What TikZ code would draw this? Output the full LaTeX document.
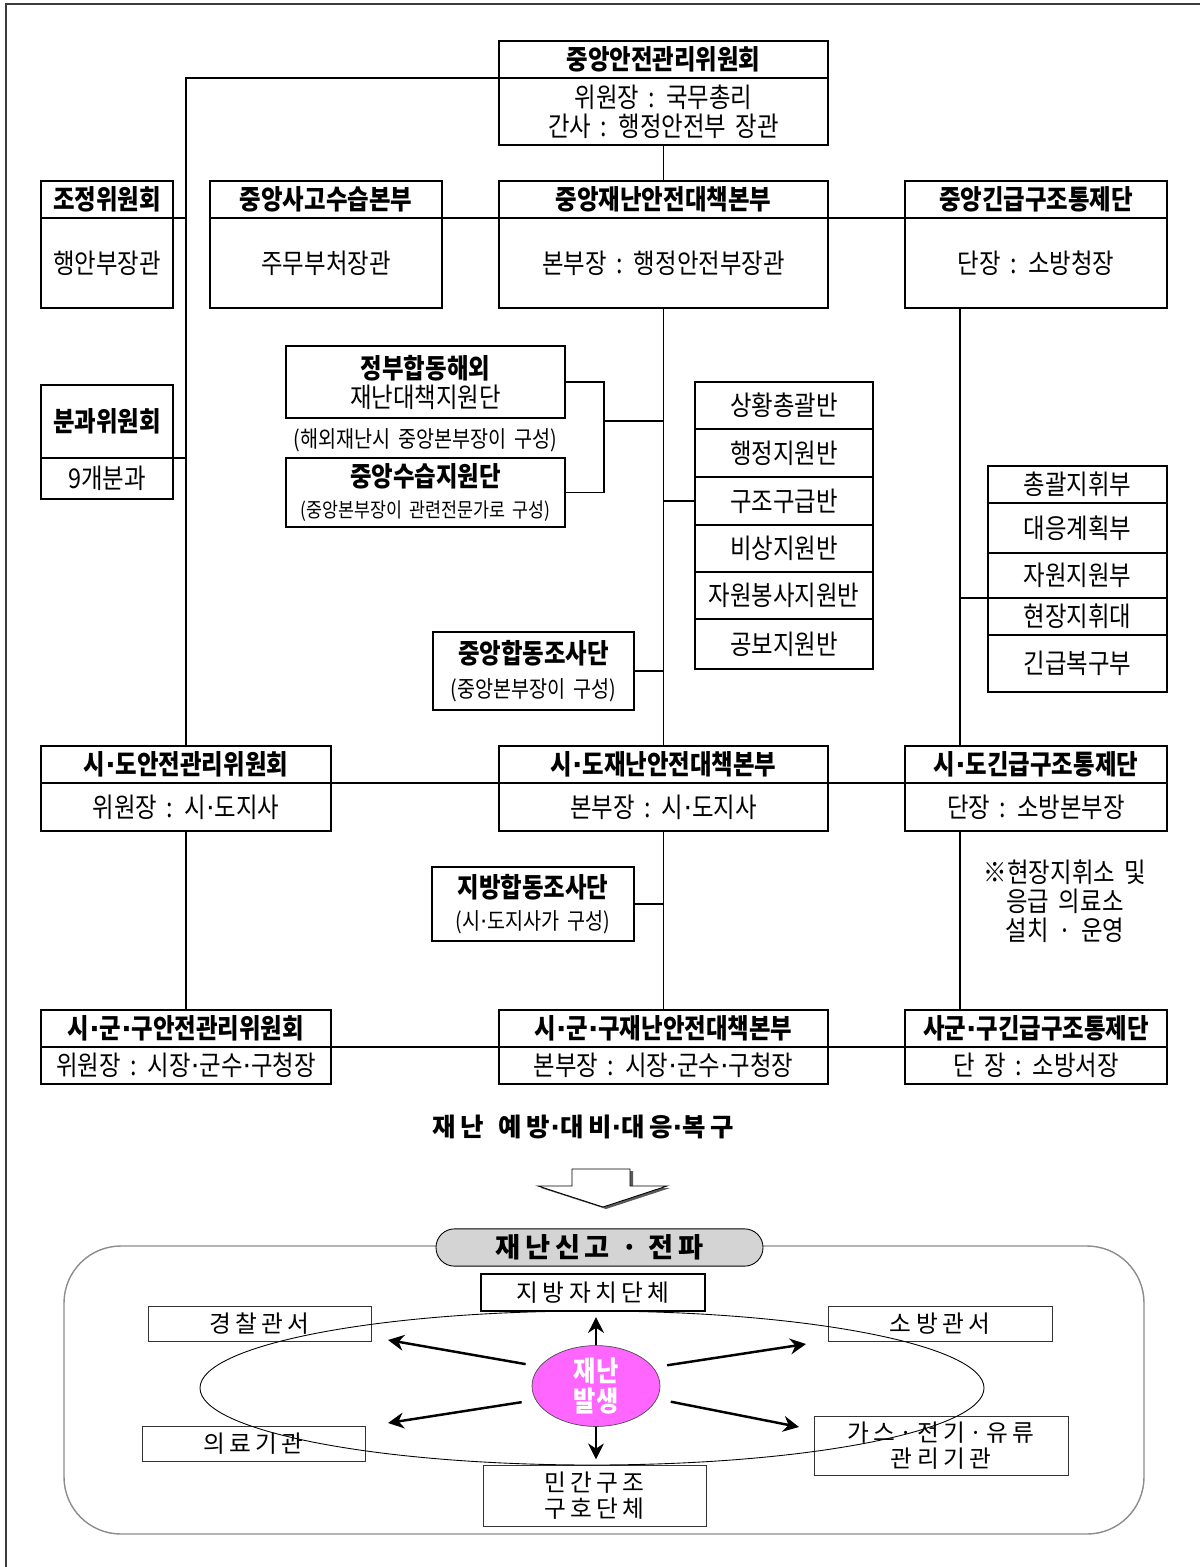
\documentclass[tikz,border=0pt]{standalone}
\usepackage{fontspec}
\setmainfont{Noto Sans CJK KR}[FakeStretch=0.86, WordSpace=1.8]
\newfontfamily\krwide{Noto Sans CJK KR}[LetterSpace=18]
\newfontfamily\latdot{DejaVu Sans}
\newcommand\md{{\latdot ·}}
\usetikzlibrary{arrows.meta, shapes.geometric}

\definecolor{frame}{HTML}{3C3C3C}
\definecolor{pill}{HTML}{D4D4D4}
\definecolor{hot}{HTML}{FF66FF}

\tikzset{
    sz/.style 2 args={minimum width=#1*0.02cm, minimum height=#2*0.02cm},
    hd/.style={draw, line width=0.9pt, inner sep=0pt, outer sep=0pt, font=\bfseries\fontsize{15.5}{17}\selectfont},
    bd/.style={draw, line width=0.9pt, inner sep=0pt, outer sep=0pt, align=center, font=\fontsize{15.5}{16.5}\selectfont},
    ln/.style={line width=0.6pt},
    note/.style={inner sep=0pt, font=\fontsize{13}{15}\selectfont},
    tag/.style={draw=black!80, line width=0.5pt, inner sep=0pt, align=center, font=\krwide\fontsize{13.5}{14.5}\selectfont},
    arr/.style={-{Stealth[length=9pt,width=9pt]}, line width=1.4pt},
}

\begin{document}
\begin{tikzpicture}[x=0.02cm, y=-0.02cm]

    \useasboundingbox (0,0) rectangle (1200,1567);

    % page frame
    \draw[frame, line width=1pt] (6,1567) -- (6,4) -- (1200,4);

    %% Central level

    % committee
    \node[hd, sz={329}{37}] (csc) at (663.5,59.5) {중앙안전관리위원회};
    \node[bd, sz={329}{67}] (csc-b) at (663.5,111.5) {위원장 : 국무총리\\간사 : 행정안전부 장관};

    % headquarters row
    \node[hd, sz={132}{37}] (adj) at (107,199.5) {조정위원회};
    \node[bd, sz={132}{90}] (adj-b) at (107,263) {행안부장관};
    \node[hd, sz={232}{37}] (cac) at (326,199.5) {중앙사고수습본부};
    \node[bd, sz={232}{90}] (cac-b) at (326,263) {주무부처장관};
    \node[hd, sz={329}{37}] (cdh) at (663.5,199.5) {중앙재난안전대책본부};
    \node[bd, sz={329}{90}] (cdh-b) at (663.5,263) {본부장 : 행정안전부장관};
    \node[hd, sz={262}{37}] (cer) at (1036,199.5) {중앙긴급구조통제단};
    \node[bd, sz={262}{90}] (cer-b) at (1036,263) {단장 : 소방청장};

    \node[hd, sz={132}{73}] (sub) at (107,421.5) {분과위원회};
    \node[bd, sz={132}{41}] (sub-b) at (107,478.5) {9개분과};

    % support teams
    \node[bd, sz={279}{72}] (ovs) at (425.5,382) {{\bfseries 정부합동해외}\\재난대책지원단};
    \node[note] (ovs-n) at (425.5,440) {(해외재난시 중앙본부장이 구성)};
    \node[bd, sz={279}{69}] (csu) at (425.5,492.5)
        {{\bfseries 중앙수습지원단}\\[1pt]{\fontsize{11.5}{13}\selectfont (중앙본부장이 관련전문가로 구성)}};
    \node[bd, sz={201}{78}] (cji) at (533.5,671)
        {{\bfseries 중앙합동조사단}\\[3pt]{\fontsize{13}{15}\selectfont (중앙본부장이 구성)}};

    % working groups
    \node[bd, sz={178}{47}] (r1) at (784,405.5) {상황총괄반};
    \node[bd, sz={178}{48}] (r2) at (784,453) {행정지원반};
    \node[bd, sz={178}{48}] (r3) at (784,501) {구조구급반};
    \node[bd, sz={178}{47}] (r4) at (784,548.5) {비상지원반};
    \node[bd, sz={178}{47}] (r5) at (784,595.5) {자원봉사지원반};
    \node[bd, sz={178}{50}] (r6) at (784,644) {공보지원반};

    \node[bd, sz={179}{37}] (q1) at (1077.5,484.5) {총괄지휘부};
    \node[bd, sz={179}{50}] (q2) at (1077.5,528) {대응계획부};
    \node[bd, sz={179}{45}] (q3) at (1077.5,575.5) {자원지원부};
    \node[bd, sz={179}{37}] (q4) at (1077.5,616.5) {현장지휘대};
    \node[bd, sz={179}{57}] (q5) at (1077.5,663.5) {긴급복구부};

    %% Province level
    \node[hd, sz={290}{37}] (sdc) at (186,764.5) {시\md 도안전관리위원회};
    \node[bd, sz={290}{48}] (sdc-b) at (186,807) {위원장 : 시\md 도지사};
    \node[hd, sz={329}{37}] (sdh) at (663.5,764.5) {시\md 도재난안전대책본부};
    \node[bd, sz={329}{48}] (sdh-b) at (663.5,807) {본부장 : 시\md 도지사};
    \node[hd, sz={262}{37}] (ser) at (1036,764.5) {시\md 도긴급구조통제단};
    \node[bd, sz={262}{48}] (ser-b) at (1036,807) {단장 : 소방본부장};

    \node[bd, sz={202}{74}] (lji) at (533,904)
        {{\bfseries 지방합동조사단}\\[2pt]{\fontsize{13}{15}\selectfont (시\md 도지사가 구성)}};
    \node[align=center, inner sep=0pt, font=\fontsize{15.5}{16.5}\selectfont] (fld) at (1065,901)
        {※현장지휘소 및\\응급 의료소\\설치 · 운영};

    %% City level
    \node[hd, sz={290}{37}] (gdc) at (186,1028.5) {시\md 군\md 구안전관리위원회};
    \node[bd, sz={290}{37}] (gdc-b) at (186,1065.5) {위원장 : 시장\md 군수\md 구청장};
    \node[hd, sz={329}{37}] (gdh) at (663.5,1028.5) {시\md 군\md 구재난안전대책본부};
    \node[bd, sz={329}{37}] (gdh-b) at (663.5,1065.5) {본부장 : 시장\md 군수\md 구청장};
    \node[hd, sz={262}{37}] (ger) at (1036,1028.5) {사군\md 구긴급구조통제단};
    \node[bd, sz={262}{37}] (ger-b) at (1036,1065.5) {단 장 : 소방서장};

    % connectors
    \coordinate (erx) at (960,0);
    \coordinate (brk) at (604,421);
    \draw[ln] (csc.south west) -| (sdc.north);
    \draw[ln] (adj.south east) -- (adj.south east -| sdc.north);
    \draw[ln] (sub.south east) -- (sub.south east -| sdc.north);
    \draw[ln] (csc-b.south) -- (cdh.north);
    \draw[ln] (cac.south east) -- (cdh.south west);
    \draw[ln] (cdh.south east) -- (cer.south west);
    \draw[ln] (cdh-b.south) -- (sdh.north);
    \draw[ln] (cer-b.south -| erx) -- (ser.north -| erx);
    \draw[ln] (ovs.east) -- ++(39,0) |- (csu.east);
    \draw[ln] (brk) -- (brk -| cdh.south);
    \draw[ln] (r3.west -| cdh.south) -- (r3.west);
    \draw[ln] (cji.east) -- (cji.east -| cdh.south);
    \draw[ln] (q3.south west) -- (q3.south west -| erx);
    \draw[ln] (sdc.south east) -- (sdh.south west);
    \draw[ln] (sdh.south east) -- (ser.south west);
    \draw[ln] (sdc-b.south) -- (gdc.north);
    \draw[ln] (sdh-b.south) -- (gdh.north);
    \draw[ln] (lji.east) -- (lji.east -| sdh.south);
    \draw[ln] (ser-b.south -| erx) -- (ger.north -| erx);
    \draw[ln] (gdc.south east) -- (gdh.south west);
    \draw[ln] (gdh.south east) -- (ger.south west);

    %% Response flow
    \node[font=\krwide\bfseries\fontsize{14.5}{16}\selectfont] (ttl) at (583,1127) {재난\hspace{0.6em}예방\md 대비\md 대응\md 복구};

    % block arrow with shadow
    \begin{scope}[shift={(3,2)}]
        \fill[black!65] (572,1169) -- (630,1169) -- (630,1186) -- (667,1186) -- (603,1207) -- (538,1186) -- (572,1186) -- cycle;
    \end{scope}
    \draw[fill=white, line width=0.5pt] (572,1169) -- (630,1169) -- (630,1186) -- (667,1186) -- (603,1207) -- (538,1186) -- (572,1186) -- cycle;

    \draw[black!45, line width=0.8pt, rounded corners=1.14cm] (64,1246) rectangle (1144,1534);
    \node[draw, fill=pill, line width=0.5pt, rounded corners=0.37cm, sz={327}{37},
        font=\krwide\bfseries\fontsize{15.5}{17}\selectfont] (rpt) at (599.5,1247.5) {재난신고 · 전파};

    \node[tag, draw=black, line width=0.9pt, sz={224}{37}] (lgv) at (593,1292.5) {지방자치단체};
    \node[tag, sz={223}{35}] (pol) at (259.5,1323.5) {경찰관서};
    \node[tag, sz={224}{35}] (fir) at (940,1323.5) {소방관서};
    \node[tag, sz={223}{35}] (med) at (253.5,1443.5) {의료기관};
    \node[tag, sz={254}{59}] (utl) at (941,1445.5) {가스·전기·유류\\관리기관};
    \node[tag, sz={223}{61}] (civ) at (594.5,1495.5) {민간구조\\구호단체};

    \draw[line width=0.5pt] (592,1388) ellipse [x radius=392, y radius=77];

    \node[ellipse, draw=black!70, fill=hot, inner sep=0pt, sz={128}{76}, align=center, text=white,
        font=\bfseries\fontsize{16}{17.5}\selectfont] (dis) at (596,1386) {재난\\발생};

    \coordinate (pol-a) at (388,1340);
    \coordinate (med-a) at (388,1423);
    \coordinate (fir-a) at (806,1344);
    \coordinate (utl-a) at (799,1427);
    \draw[arr, shorten >=3pt] (dis.north) -- (dis.north |- lgv.south);
    \draw[arr, shorten >=3pt] (dis.south) -- (dis.south |- civ.north);
    \draw[arr, shorten <=8pt] (dis.161) -- (pol-a);
    \draw[arr, shorten <=8pt] (dis.193) -- (med-a);
    \draw[arr, shorten <=8pt] (dis.18) -- (fir-a);
    \draw[arr, shorten <=8pt] (dis.348) -- (utl-a);

\end{tikzpicture}
\end{document}
